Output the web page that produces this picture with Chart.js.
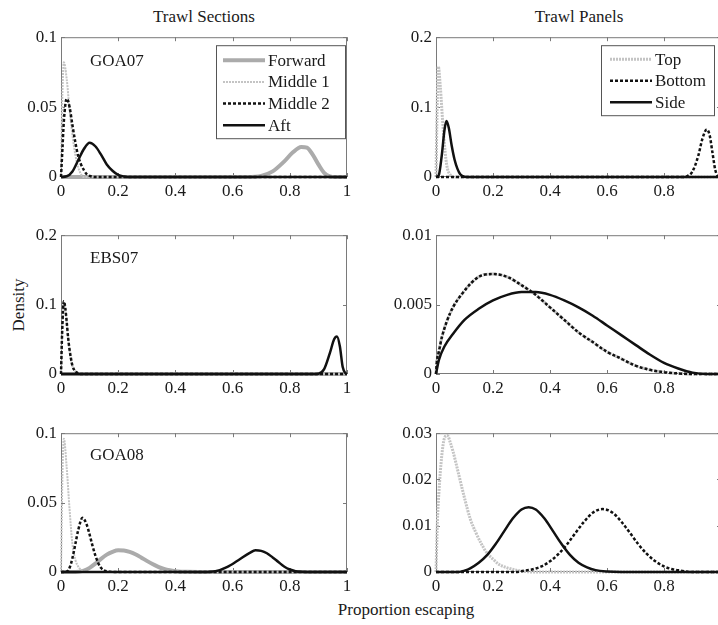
<!DOCTYPE html>
<html>
<head>
<meta charset="utf-8">
<script src="https://cdn.jsdelivr.net/npm/chart.js@4"></script>
<style>
  html, body { margin:0; padding:0; background:#fff; overflow:hidden; }
  body { width:718px; height:625px; position:relative; font-family:'Liberation Serif', 'Times New Roman', serif; color:#1a1a1a; }
  canvas { position:absolute; }
  .lbl { position:absolute; font-size:17px; white-space:nowrap; transform:translate(-50%,-50%); }
</style>
</head>
<body>
<div class="lbl" style="left:204px;top:17px">Trawl Sections</div>
<div class="lbl" style="left:579px;top:17px">Trawl Panels</div>
<div class="lbl" style="left:19px;top:305px;transform:translate(-50%,-50%) rotate(-90deg)">Density</div>
<div class="lbl" style="left:406px;top:610px">Proportion escaping</div>

<canvas id="c1" width="360" height="182" style="left:0;top:23px"></canvas>
<canvas id="c2" width="360" height="182" style="left:380px;top:23px"></canvas>
<canvas id="c3" width="360" height="181" style="left:0;top:221px"></canvas>
<canvas id="c4" width="360" height="181" style="left:380px;top:221px"></canvas>
<canvas id="c5" width="360" height="181" style="left:0;top:419px"></canvas>
<canvas id="c6" width="360" height="181" style="left:380px;top:419px"></canvas>

<script>
// tick values
const xTicksLeft = [0, 0.2, 0.4, 0.6, 0.8, 1];
const xTicksRight = [0, 0.2, 0.4, 0.6, 0.8];
const yTicksGOA07 = [0, 0.05, 0.1];
const yTicksEBS07 = [0, 0.1, 0.2];
const yTicksGOA08 = [0, 0.05, 0.1];
const yTicksPanels07 = [0, 0.1, 0.2];
const yTicksPanelsEBS = [0, 0.005, 0.01];
const yTicksPanels08 = [0, 0.01, 0.02, 0.03];

const sectionNames = ['Forward', 'Middle 1', 'Middle 2', 'Aft'];
const panelNames = ['Top', 'Bottom', 'Side'];

// trawl sections, [proportion, density]
const goa07Forward = [[0,0],[0.65,0],[0.7,0.0008],[0.74,0.004],[0.78,0.011],[0.81,0.0175],[0.84,0.0215],[0.86,0.021],[0.88,0.016],[0.9,0.009],[0.92,0.003],[0.94,0.0005],[0.96,0],[1,0]];
const goa07Middle1 = [[0,0],[0.005,0.06],[0.01,0.082],[0.02,0.07],[0.03,0.048],[0.04,0.03],[0.05,0.016],[0.06,0.007],[0.07,0.002],[0.08,0],[1,0]];
const goa07Middle2 = [[0,0],[0.005,0.02],[0.01,0.04],[0.02,0.056],[0.03,0.05],[0.04,0.037],[0.05,0.025],[0.06,0.015],[0.07,0.009],[0.08,0.005],[0.09,0.002],[0.1,0.0008],[0.12,0],[1,0]];
const goa07Aft = [[0,0],[0.02,0.0005],[0.04,0.004],[0.06,0.012],[0.08,0.02],[0.1,0.0245],[0.12,0.022],[0.14,0.016],[0.16,0.009],[0.18,0.0045],[0.2,0.0015],[0.22,0.0004],[0.25,0],[1,0]];

const ebs07Forward = [[0,0],[1,0]];
const ebs07Middle1 = [[0,0],[0.004,0.06],[0.01,0.103],[0.015,0.093],[0.02,0.073],[0.025,0.05],[0.03,0.033],[0.035,0.02],[0.04,0.011],[0.05,0.004],[0.06,0.001],[0.07,0],[1,0]];
const ebs07Middle2 = [[0,0],[0.004,0.06],[0.01,0.105],[0.015,0.095],[0.02,0.075],[0.025,0.052],[0.03,0.035],[0.035,0.022],[0.04,0.012],[0.05,0.004],[0.06,0.001],[0.07,0],[1,0]];
const ebs07Aft = [[0,0],[0.88,0],[0.9,0.0005],[0.92,0.007],[0.94,0.03],[0.955,0.05],[0.965,0.054],[0.975,0.04],[0.985,0.01],[0.995,0.001],[1,0]];

const goa08Forward = [[0,0],[0.05,0],[0.08,0.001],[0.1,0.003],[0.12,0.006],[0.14,0.0095],[0.16,0.0125],[0.18,0.0145],[0.2,0.0156],[0.22,0.0155],[0.24,0.0145],[0.26,0.0128],[0.28,0.0105],[0.3,0.008],[0.32,0.0057],[0.34,0.0037],[0.36,0.0022],[0.38,0.0012],[0.4,0.0006],[0.44,0.0001],[0.5,0],[1,0]];
const goa08Middle1 = [[0,0],[0.005,0.07],[0.01,0.096],[0.02,0.075],[0.03,0.045],[0.04,0.02],[0.05,0.009],[0.06,0.004],[0.07,0.0015],[0.09,0],[1,0]];
const goa08Middle2 = [[0,0],[0.02,0.0003],[0.03,0.003],[0.04,0.01],[0.05,0.02],[0.06,0.03],[0.075,0.039],[0.09,0.034],[0.1,0.027],[0.11,0.019],[0.12,0.012],[0.13,0.0065],[0.14,0.003],[0.15,0.0012],[0.17,0.0002],[0.2,0],[1,0]];
const goa08Aft = [[0,0],[0.5,0],[0.54,0.0005],[0.58,0.0035],[0.62,0.0085],[0.66,0.0138],[0.68,0.0156],[0.7,0.0152],[0.72,0.0135],[0.74,0.0105],[0.76,0.0072],[0.78,0.004],[0.8,0.0018],[0.82,0.0006],[0.84,0.0001],[0.86,0],[1,0]];

// trawl panels
const goa07Top = [[0,0],[0.004,0.1],[0.008,0.158],[0.015,0.13],[0.02,0.1],[0.025,0.07],[0.03,0.045],[0.035,0.025],[0.04,0.012],[0.05,0.003],[0.06,0],[1,0]];
const goa07Bottom = [[0,0],[0.86,0],[0.88,0.001],[0.9,0.008],[0.92,0.03],[0.935,0.055],[0.95,0.068],[0.96,0.06],[0.97,0.035],[0.98,0.01],[0.99,0.001],[1,0]];
const goa07Side = [[0,0],[0.01,0.003],[0.02,0.03],[0.03,0.068],[0.037,0.08],[0.045,0.07],[0.055,0.045],[0.065,0.025],[0.075,0.012],[0.085,0.004],[0.1,0.0005],[0.12,0],[1,0]];

const ebs07Top = [[0,0],[0.003,0.0009],[0.01,0.0016],[0.02,0.0026],[0.05,0.0044],[0.1,0.006],[0.15,0.007],[0.2,0.0072],[0.25,0.007],[0.3,0.0064],[0.35,0.0057],[0.4,0.0048],[0.45,0.0039],[0.5,0.003],[0.55,0.0023],[0.6,0.0016],[0.65,0.0011],[0.7,0.0006],[0.75,0.0003],[0.8,0.00013],[0.85,0.00004],[0.9,0],[1,0]];
const ebs07Bottom = [[0,0],[0.003,0.0009],[0.01,0.0016],[0.02,0.0026],[0.05,0.0044],[0.1,0.006],[0.15,0.007],[0.2,0.0072],[0.25,0.007],[0.3,0.0064],[0.35,0.0057],[0.4,0.0048],[0.45,0.0039],[0.5,0.003],[0.55,0.0023],[0.6,0.0016],[0.65,0.0011],[0.7,0.0006],[0.75,0.0003],[0.8,0.00013],[0.85,0.00004],[0.9,0],[1,0]];
const ebs07Side = [[0,0],[0.01,0.001],[0.03,0.002],[0.06,0.0029],[0.1,0.0039],[0.15,0.0047],[0.2,0.0053],[0.25,0.0057],[0.3,0.0059],[0.35,0.0059],[0.4,0.0057],[0.45,0.0053],[0.5,0.0048],[0.55,0.0042],[0.6,0.0035],[0.65,0.0028],[0.7,0.0021],[0.75,0.0014],[0.8,0.0008],[0.85,0.0004],[0.9,0.0001],[0.95,0],[1,0]];

const goa08Top = [[0,0],[0.005,0.011],[0.01,0.017],[0.02,0.025],[0.03,0.029],[0.04,0.0295],[0.05,0.028],[0.06,0.026],[0.08,0.021],[0.1,0.016],[0.12,0.0115],[0.14,0.0085],[0.16,0.006],[0.18,0.004],[0.2,0.0028],[0.22,0.0017],[0.25,0.0009],[0.3,0.0002],[0.35,0],[1,0]];
const goa08Bottom = [[0,0],[0.28,0],[0.31,0.0003],[0.34,0.0006],[0.37,0.0012],[0.4,0.0023],[0.43,0.0039],[0.46,0.006],[0.49,0.0085],[0.52,0.0109],[0.55,0.0128],[0.585,0.0136],[0.62,0.0128],[0.65,0.0109],[0.68,0.0085],[0.71,0.006],[0.74,0.0039],[0.77,0.0023],[0.8,0.0012],[0.83,0.0006],[0.86,0.0003],[0.89,0],[1,0]];
const goa08Side = [[0,0],[0.08,0],[0.1,0.0003],[0.12,0.0008],[0.15,0.002],[0.18,0.0037],[0.21,0.0061],[0.24,0.0089],[0.27,0.0116],[0.3,0.0135],[0.325,0.014],[0.35,0.0135],[0.38,0.0116],[0.41,0.0089],[0.44,0.0061],[0.47,0.0037],[0.5,0.002],[0.53,0.001],[0.56,0.0004],[0.6,0.0001],[0.65,0],[1,0]];

const FONT = { family: "'Liberation Serif', 'Times New Roman', serif", size: 17 };
const INK = '#1a1a1a';
const AXIS = '#7a7a7a';

// line looks, MATLAB style
const styles = {
  'Forward':  { color: '#ababab', width: 4,   dash: [],     order: 4 },
  'Middle 1': { color: '#c4c4c4', width: 2,   dash: [2, 1], order: 3 },
  'Middle 2': { color: '#111111', width: 2.5, dash: [3, 2], order: 2 },
  'Aft':      { color: '#111111', width: 2.5, dash: [],     order: 1 },
  'Top':      { color: '#c4c4c4', width: 3,   dash: [2, 1], order: 3 },
  'Bottom':   { color: '#111111', width: 2.5, dash: [3, 2], order: 2 },
  'Side':     { color: '#111111', width: 2.5, dash: [],     order: 1 }
};

const fmt = v => String(Math.round(v * 10000) / 10000);

const framePlugin = {
  id: 'frame',
  beforeDatasetsDraw(chart, args, opts) {
    const { ctx, chartArea: a, scales } = chart;
    ctx.save();
    ctx.strokeStyle = AXIS;
    ctx.lineWidth = 1;
    ctx.strokeRect(a.left + 0.5, a.top + 0.5, a.right - a.left - 1, a.bottom - a.top - 1);
    ctx.beginPath();
    scales.x.ticks.forEach(t => {
      const px = Math.round(scales.x.getPixelForValue(t.value)) + 0.5;
      ctx.moveTo(px, a.bottom); ctx.lineTo(px, a.bottom - 4);
      ctx.moveTo(px, a.top); ctx.lineTo(px, a.top + 4);
    });
    scales.y.ticks.forEach(t => {
      const py = Math.round(scales.y.getPixelForValue(t.value)) + 0.5;
      ctx.moveTo(a.left, py); ctx.lineTo(a.left + 4, py);
      ctx.moveTo(a.right, py); ctx.lineTo(a.right - 4, py);
    });
    ctx.stroke();
    ctx.restore();
  },
  afterDatasetsDraw(chart, args, opts) {
    const { ctx, chartArea: a } = chart;
    ctx.save();
    ctx.font = `${FONT.size}px ${FONT.family}`;
    ctx.fillStyle = INK;
    ctx.textBaseline = 'middle';
    if (opts.name) ctx.fillText(opts.name, a.left + 29, a.top + opts.nameDy);
    const lg = opts.legend;
    if (lg) {
      const x0 = a.left + lg.dx, y0 = a.top + lg.dy;
      ctx.fillStyle = '#fff';
      ctx.fillRect(x0, y0, lg.w, lg.h);
      ctx.strokeStyle = '#555';
      ctx.lineWidth = 1;
      ctx.strokeRect(x0 + 0.5, y0 + 0.5, lg.w, lg.h);
      lg.items.forEach((name, i) => {
        const s = styles[name];
        const y = y0 + lg.first + i * lg.step;
        ctx.beginPath();
        ctx.strokeStyle = s.color;
        ctx.lineWidth = s.width;
        ctx.setLineDash(s.dash);
        ctx.moveTo(x0 + lg.l0, y); ctx.lineTo(x0 + lg.l1, y);
        ctx.stroke();
        ctx.setLineDash([]);
        ctx.fillStyle = INK;
        ctx.fillText(name, x0 + lg.l1 + 3, y + 1);
      });
    }
    ctx.restore();
  }
};

function makePanel(id, p) {
  new Chart(document.getElementById(id), {
    type: 'line',
    data: {
      datasets: p.names.map((name, i) => ({
        label: name,
        data: p.series[i].map(([x, y]) => ({ x, y })),
        borderColor: styles[name].color,
        borderWidth: styles[name].width,
        borderDash: styles[name].dash,
        order: styles[name].order,
        pointRadius: 0,
        fill: false,
        cubicInterpolationMode: 'monotone',
        clip: 3
      }))
    },
    options: {
      responsive: false,
      animation: false,
      devicePixelRatio: 1,
      layout: { padding: { top: 12, right: p.padRight, bottom: 0, left: 0 } },
      scales: {
        x: {
          type: 'linear', min: 0, max: 1,
          afterBuildTicks: s => { s.ticks = p.xTicks.map(v => ({ value: v })); },
          afterFit: s => { s.height = 28; },
          ticks: { font: FONT, color: INK, padding: 4, maxRotation: 0, autoSkip: false, callback: fmt },
          grid: { display: false, drawTicks: false },
          border: { display: false }
        },
        y: {
          type: 'linear', min: 0, max: p.yTicks[p.yTicks.length - 1],
          afterBuildTicks: s => { s.ticks = p.yTicks.map(v => ({ value: v })); },
          afterFit: s => { s.width = p.yWidth; },
          ticks: { font: FONT, color: INK, padding: 4, autoSkip: false, callback: fmt },
          grid: { display: false, drawTicks: false },
          border: { display: false }
        }
      },
      plugins: {
        legend: { display: false },
        tooltip: { enabled: false },
        frame: { name: p.label, nameDy: p.nameDy, legend: p.legend }
      }
    },
    plugins: [framePlugin]
  });
}

const left = { xTicks: xTicksLeft, yWidth: 61, padRight: 13, names: sectionNames };
const right = { xTicks: xTicksRight, yWidth: 56, padRight: 19, names: panelNames };

makePanel('c1', { ...left, yTicks: yTicksGOA07, label: 'GOA07', nameDy: 24,
  series: [goa07Forward, goa07Middle1, goa07Middle2, goa07Aft],
  legend: { dx: 155, dy: 8, w: 129, h: 93, first: 15, step: 21.7, l0: 7, l1: 49, items: sectionNames } });
makePanel('c2', { ...right, yTicks: yTicksPanels07,
  series: [goa07Top, goa07Bottom, goa07Side],
  legend: { dx: 165, dy: 8, w: 113, h: 70, first: 14, step: 21.5, l0: 9, l1: 51, items: panelNames } });
makePanel('c3', { ...left, yTicks: yTicksEBS07, label: 'EBS07', nameDy: 23,
  series: [ebs07Forward, ebs07Middle1, ebs07Middle2, ebs07Aft] });
makePanel('c4', { ...right, yTicks: yTicksPanelsEBS,
  series: [ebs07Top, ebs07Bottom, ebs07Side] });
makePanel('c5', { ...left, yTicks: yTicksGOA08, label: 'GOA08', nameDy: 22,
  series: [goa08Forward, goa08Middle1, goa08Middle2, goa08Aft] });
makePanel('c6', { ...right, yTicks: yTicksPanels08,
  series: [goa08Top, goa08Bottom, goa08Side] });
</script>
</body>
</html>
